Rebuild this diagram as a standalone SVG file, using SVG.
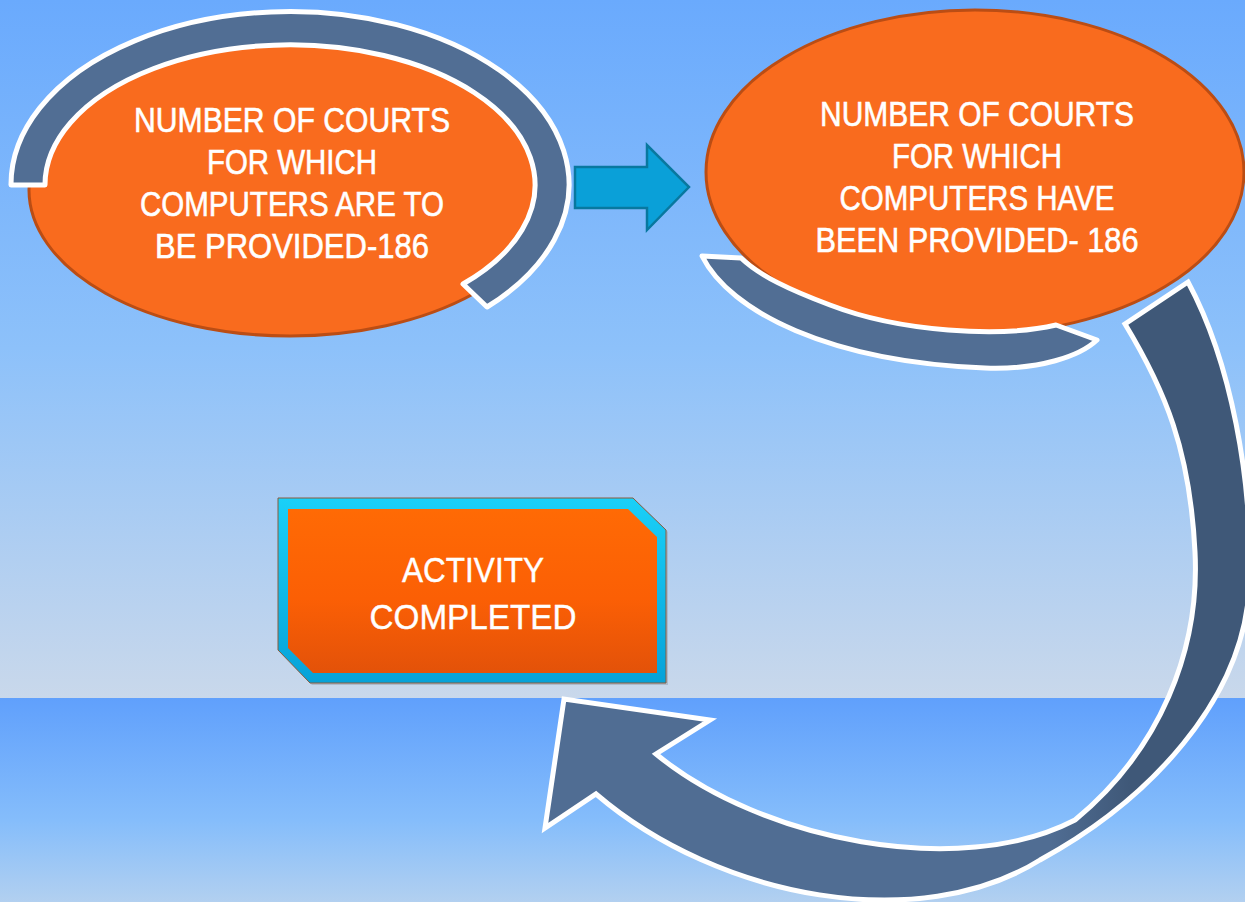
<svg xmlns="http://www.w3.org/2000/svg" width="1245" height="902" viewBox="0 0 1245 902">
<defs>
<linearGradient id="bgTop" x1="0" y1="0" x2="0" y2="698" gradientUnits="userSpaceOnUse">
<stop offset="0" stop-color="#6aaafd"/>
<stop offset="0.5" stop-color="#8dc1fa"/>
<stop offset="1" stop-color="#c9d8eb"/>
</linearGradient>
<linearGradient id="bgBot" x1="0" y1="698" x2="0" y2="902" gradientUnits="userSpaceOnUse">
<stop offset="0" stop-color="#60a0fc"/>
<stop offset="0.6" stop-color="#85bdfb"/>
<stop offset="1" stop-color="#b2d0f0"/>
</linearGradient>
<linearGradient id="boxFill" x1="0" y1="509" x2="0" y2="673" gradientUnits="userSpaceOnUse">
<stop offset="0" stop-color="#ff6a05"/>
<stop offset="0.55" stop-color="#fb5f05"/>
<stop offset="1" stop-color="#e35209"/>
</linearGradient>
<linearGradient id="boxBorder" x1="0" y1="498" x2="0" y2="683" gradientUnits="userSpaceOnUse">
<stop offset="0" stop-color="#1ad0f8"/>
<stop offset="1" stop-color="#06a2d8"/>
</linearGradient>
<linearGradient id="bigArrow" x1="1130" y1="0" x2="1050" y2="0" gradientUnits="userSpaceOnUse">
<stop offset="0" stop-color="#3f5878"/>
<stop offset="1" stop-color="#506d93"/>
</linearGradient>
<style>
.ell{fill:#f96b1e;stroke:#bb4d14;stroke-width:3}
.band{fill:#516e94;stroke:#ffffff;stroke-width:5;stroke-linejoin:round}
.lbl{font-family:"Liberation Sans",Arial,sans-serif;font-size:35px;fill:#ffffff;stroke:#ffffff;stroke-width:0.6;text-anchor:middle}
.blbl{font-family:"Liberation Sans",Arial,sans-serif;font-size:35px;fill:#ffffff;stroke:#ffffff;stroke-width:0.4;text-anchor:middle}
</style>
</defs>
<rect x="0" y="0" width="1245" height="698" fill="url(#bgTop)"/>
<rect x="0" y="698" width="1245" height="204" fill="url(#bgBot)"/>

<g id="node-left">
<ellipse class="ell" cx="290" cy="190" rx="261" ry="146"/>
<path class="band" d="M11,185 A279,173 0 1 1 487,307 L463,284 A245,140 0 1 0 45,185 Z"/>
<text class="lbl" x="292" y="132" textLength="316" lengthAdjust="spacingAndGlyphs">NUMBER OF COURTS</text>
<text class="lbl" x="292" y="174" textLength="170" lengthAdjust="spacingAndGlyphs">FOR WHICH</text>
<text class="lbl" x="292" y="216" textLength="304" lengthAdjust="spacingAndGlyphs">COMPUTERS ARE TO</text>
<text class="lbl" x="292" y="258" textLength="274" lengthAdjust="spacingAndGlyphs">BE PROVIDED-186</text>
</g>

<g id="node-right">
<ellipse class="ell" cx="975" cy="172" rx="269" ry="162"/>
<path class="band" d="M702,256 C730,312 830,362 985,368 C1040,370 1080,356 1097,340 L1056,325 C1000,338 900,332 830,305 C790,290 760,276 741,258 Z"/>
<text class="lbl" x="977" y="126" textLength="314" lengthAdjust="spacingAndGlyphs">NUMBER OF COURTS</text>
<text class="lbl" x="977" y="168" textLength="170" lengthAdjust="spacingAndGlyphs">FOR WHICH</text>
<text class="lbl" x="977" y="210" textLength="275" lengthAdjust="spacingAndGlyphs">COMPUTERS HAVE</text>
<text class="lbl" x="977" y="252" textLength="323" lengthAdjust="spacingAndGlyphs">BEEN PROVIDED- 186</text>
</g>

<g id="node-activity">
<polygon points="280,500 635,500 668,532 668,685 312,685 280,652" fill="#9aa8b8" opacity="0.6"/>
<polygon points="278,498 633,498 666,530 666,683 310,683 278,650" fill="url(#boxBorder)" stroke="#8a5a3c" stroke-width="1"/>
<polygon points="288,509 628,509 657,537 657,673 313,673 288,648" fill="url(#boxFill)"/>
<text class="blbl" x="473" y="582" textLength="142" lengthAdjust="spacingAndGlyphs">ACTIVITY</text>
<text class="blbl" x="473" y="629" textLength="207" lengthAdjust="spacingAndGlyphs">COMPLETED</text>
</g>

<g id="connectors">
<polygon points="575,167 647,167 647,145 689,187 647,230 647,208 575,208" fill="#0aa0d8" stroke="#08789f" stroke-width="2.5" stroke-linejoin="miter"/>
<path d="M1188,282 C1230,360 1254,480 1249,590 C1242,700 1150,800 1040,860 C920,935 720,900 596,794 L545,828 L564,699 L710,720 L656,754 C760,840 960,880 1075,820 C1160,750 1200,650 1195,552 C1190,450 1165,390 1125,324 Z" fill="url(#bigArrow)" stroke="#ffffff" stroke-width="5" stroke-linejoin="miter"/>
</g>
</svg>
